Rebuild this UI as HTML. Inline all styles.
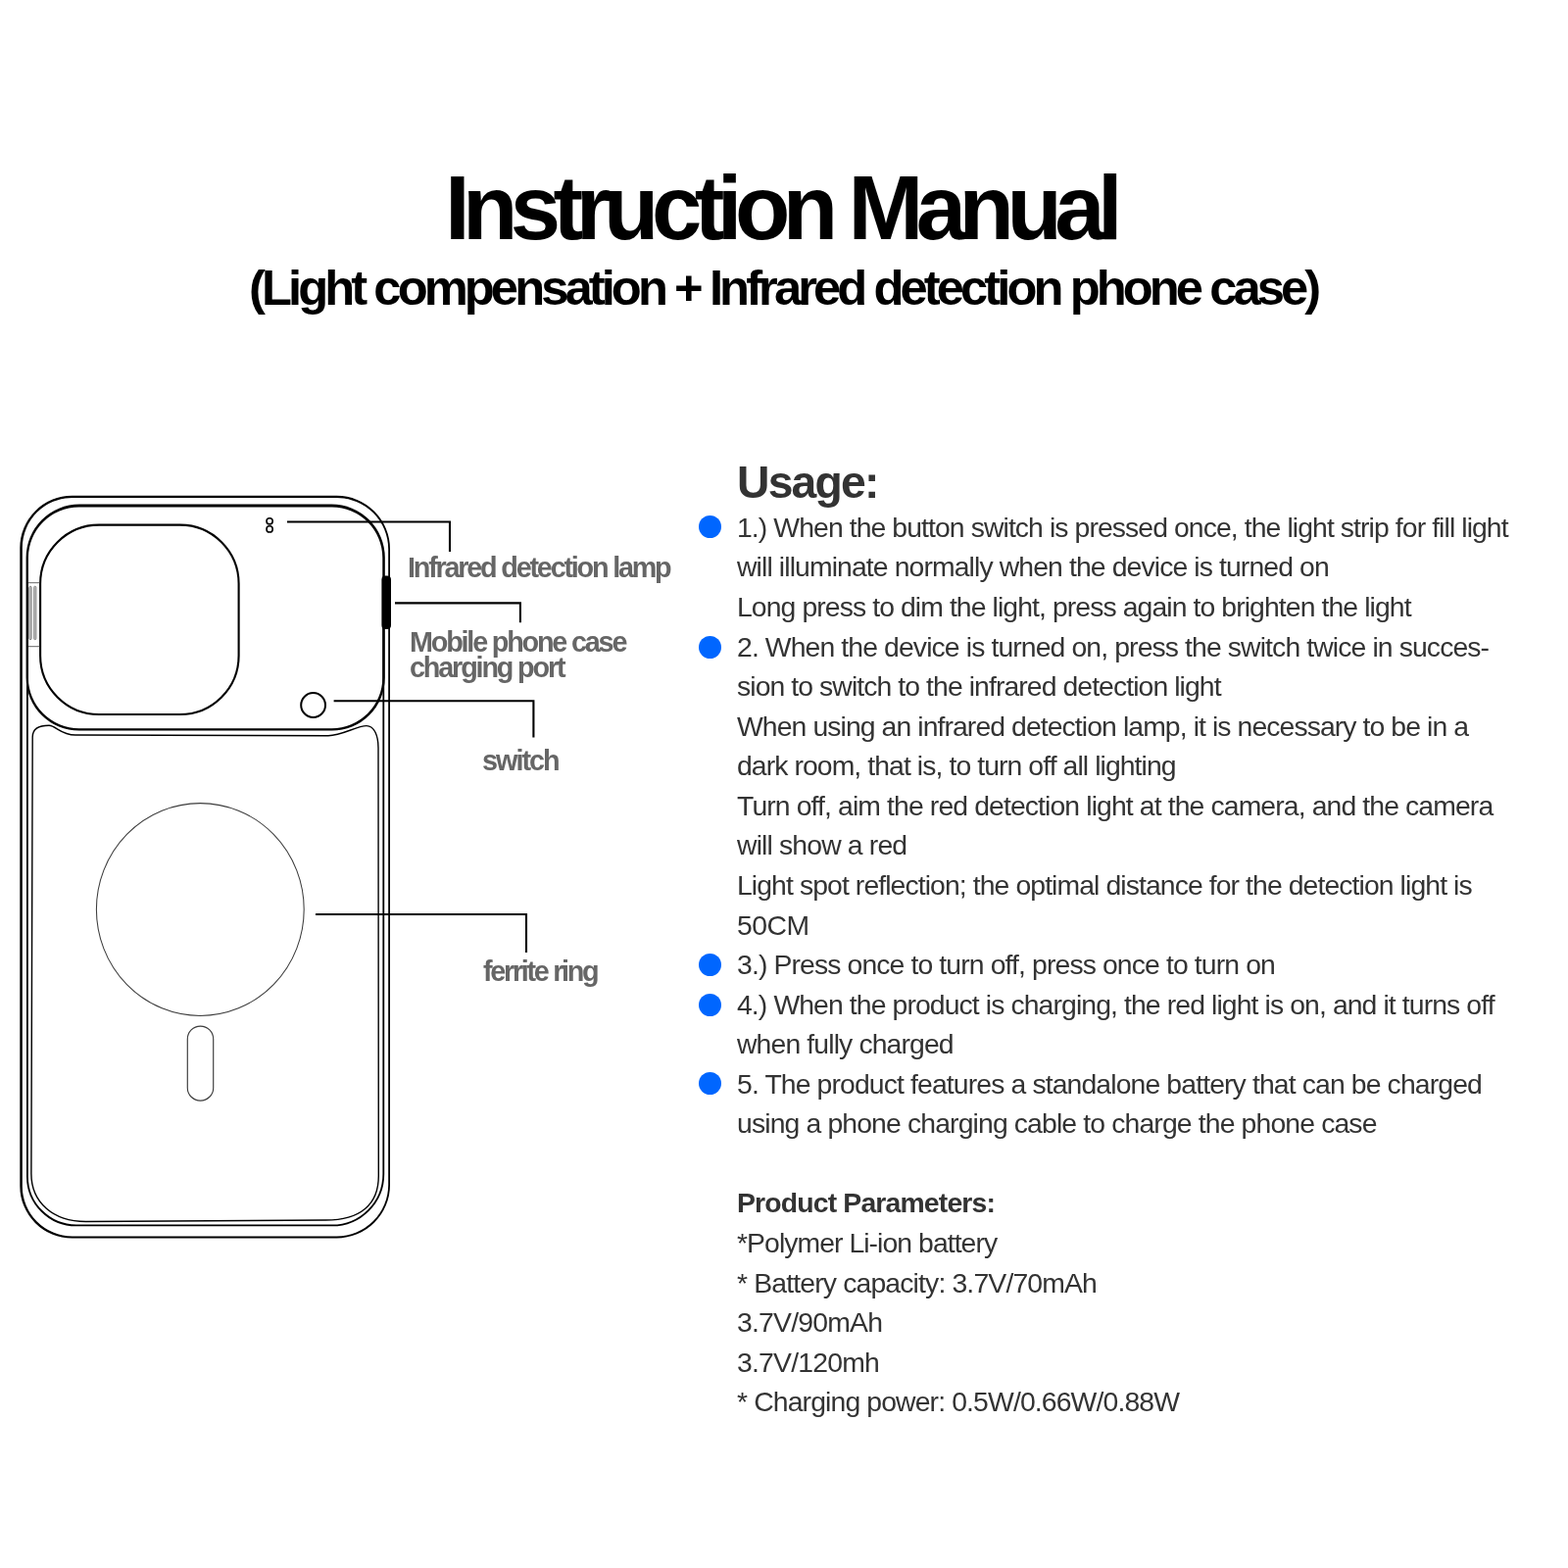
<!DOCTYPE html>
<html lang="en"><head><meta charset="utf-8"><title>Instruction Manual</title>
<style>
html,body{margin:0;padding:0;background:#fff}
body{width:1600px;height:1600px;position:relative;overflow:hidden;font-family:"Liberation Sans",Arial,Helvetica,sans-serif}
.t{position:absolute;white-space:nowrap;margin:0;padding:0;will-change:transform;-webkit-font-smoothing:antialiased}
.h{font-weight:700;color:#000}
.u{font-weight:700;color:#333}
.b{color:#333}
.bb{font-weight:700;color:#333}
.l{font-weight:700;color:#666}
.dot{position:absolute;width:23px;height:23px;border-radius:50%;background:#0066ff}
svg{position:absolute;left:0;top:0}
</style></head><body>

<svg width="1600" height="1600" viewBox="0 0 1600 1600" fill="none" stroke="#000" stroke-linecap="butt">
<path fill="#000" stroke="none" fill-rule="evenodd" d="M73.60 505.80 H343.50 A54.5 54.5 0 0 1 398.00 560.30 V1209.00 A54.5 54.5 0 0 1 343.50 1263.50 H73.60 A53.3 53.3 0 0 1 20.30 1210.20 V559.10 A53.3 53.3 0 0 1 73.60 505.80 Z M73.80 507.90 A51 51 0 0 0 22.80 558.90 V1210.50 A51 51 0 0 0 73.80 1261.50 H343.60 A52.6 52.6 0 0 0 396.20 1208.90 V560.50 A52.6 52.6 0 0 0 343.60 507.90 Z"/>
<path d="M27.9 600 V1200.4 A50 50 0 0 0 77.9 1250.4 H338.8 A52.5 52.5 0 0 0 391.3 1197.9 V600" stroke-width="1.8"/>
<path fill="#000" stroke="none" fill-rule="evenodd" d="M81.10 514.50 H338.30 A54.5 54.5 0 0 1 392.80 569.00 V691.40 A54.2 54.2 0 0 1 338.60 745.60 H80.80 A54.2 54.2 0 0 1 26.60 691.40 V569.00 A54.5 54.5 0 0 1 81.10 514.50 Z M80.40 517.60 A51.5 51.5 0 0 0 28.90 569.10 V691.40 A51.8 51.8 0 0 0 80.70 743.20 H338.50 A51.8 51.8 0 0 0 390.30 691.40 V569.10 A51.5 51.5 0 0 0 338.80 517.60 Z"/>
<rect x="41.1" y="535.6" width="202.5" height="193.4" rx="60" ry="60" stroke-width="2.1"/>
<path d="M31.9 1197.5 L33.2 752 C33.2 746 37 740.3 50 740.3 C57 740.3 62 750 77 750 L335 750.7 C349 750.7 364 740.6 374 740.6 C382 740.6 386 751 386 763 L386.3 1200 C386.3 1229.3 367.4 1245 332.5 1245 L87.5 1246.5 C54.1 1246.5 31.9 1226.9 31.9 1197.5 Z" stroke-width="1.4"/>
<path d="M28.8 594.7 H40.4 M28.8 659.7 H40.4" stroke="#555" stroke-width="0.9"/>
<g fill="#b4b4b4" stroke="#6a6a6a" stroke-width="0.6"><rect x="29.7" y="598.2" width="2.6" height="54.5" rx="1.3"/><rect x="34.5" y="598.2" width="2.5" height="54.5" rx="1.25"/></g>
<rect x="389.4" y="587.5" width="9.6" height="54.5" rx="4" ry="4" fill="#000" stroke="none"/>
<circle cx="275.1" cy="531.8" r="3.1" stroke-width="1.6"/>
<circle cx="275.1" cy="539.9" r="3.1" stroke-width="1.6"/>
<circle cx="319.6" cy="719.5" r="12.4" stroke-width="2"/>
<ellipse cx="204.3" cy="928" rx="105.9" ry="108.4" stroke="#3c3c3c" stroke-width="1.05"/>
<rect x="191.3" y="1047.1" width="26.4" height="76" rx="13.2" ry="13.2" stroke="#3c3c3c" stroke-width="1.15"/>
<g stroke-width="2.1">
<path d="M293 532.5 H459 V563"/>
<path d="M403 615.4 H530.9 V635.3"/>
<path d="M340.6 715.2 H544.4 V752.4"/>
<path d="M322 933 H537 V972"/>
</g>
</svg>

<div id="title" class="t h" style="left:454.20px;top:166px;font-size:92.3px;line-height:93px;letter-spacing:-7.58px">Instruction Manual</div>
<div id="sub" class="t h" style="left:254.40px;top:268px;font-size:50.7px;line-height:51px;letter-spacing:-3.92px">(Light compensation + Infrared detection phone case)</div>
<div id="usage" class="t u" style="left:751.70px;top:469px;font-size:46.3px;line-height:47px;letter-spacing:-1.8px">Usage:</div>
<div id="b0" class="t b" style="left:752.00px;top:524px;font-size:28.35px;line-height:29px;letter-spacing:-0.9078px">1.) When the button switch is pressed once, the light strip for fill light</div>
<div class="dot" style="left:712.85px;top:525.85px"></div>
<div id="b1" class="t b" style="left:752.00px;top:564px;font-size:28.35px;line-height:29px;letter-spacing:-0.8838px">will illuminate normally when the device is turned on</div>
<div id="b2" class="t b" style="left:752.00px;top:605px;font-size:28.35px;line-height:29px;letter-spacing:-0.9041px">Long press to dim the light, press again to brighten the light</div>
<div id="b3" class="t b" style="left:752.00px;top:646px;font-size:28.35px;line-height:29px;letter-spacing:-0.8842px">2. When the device is turned on, press the switch twice in succes-</div>
<div class="dot" style="left:712.85px;top:649.40px"></div>
<div id="b4" class="t b" style="left:752.00px;top:686px;font-size:28.35px;line-height:29px;letter-spacing:-0.9139px">sion to switch to the infrared detection light</div>
<div id="b5" class="t b" style="left:752.00px;top:727px;font-size:28.35px;line-height:29px;letter-spacing:-0.9073px">When using an infrared detection lamp, it is necessary to be in a</div>
<div id="b6" class="t b" style="left:752.00px;top:767px;font-size:28.35px;line-height:29px;letter-spacing:-0.9144px">dark room, that is, to turn off all lighting</div>
<div id="b7" class="t b" style="left:752.00px;top:808px;font-size:28.35px;line-height:29px;letter-spacing:-0.8807px">Turn off, aim the red detection light at the camera, and the camera</div>
<div id="b8" class="t b" style="left:752.00px;top:848px;font-size:28.35px;line-height:29px;letter-spacing:-0.8407px">will show a red</div>
<div id="b9" class="t b" style="left:752.00px;top:889px;font-size:28.35px;line-height:29px;letter-spacing:-0.9036px">Light spot reflection; the optimal distance for the detection light is</div>
<div id="b10" class="t b" style="left:752.00px;top:930px;font-size:28.35px;line-height:29px;letter-spacing:-0.5383px">50CM</div>
<div id="b11" class="t b" style="left:752.00px;top:970px;font-size:28.35px;line-height:29px;letter-spacing:-0.8769px">3.) Press once to turn off, press once to turn on</div>
<div class="dot" style="left:712.85px;top:972.90px"></div>
<div id="b12" class="t b" style="left:752.00px;top:1011px;font-size:28.35px;line-height:29px;letter-spacing:-0.8929px">4.) When the product is charging, the red light is on, and it turns off</div>
<div class="dot" style="left:712.85px;top:1013.50px"></div>
<div id="b13" class="t b" style="left:752.00px;top:1051px;font-size:28.35px;line-height:29px;letter-spacing:-0.8667px">when fully charged</div>
<div id="b14" class="t b" style="left:752.00px;top:1092px;font-size:28.35px;line-height:29px;letter-spacing:-0.8717px">5. The product features a standalone battery that can be charged</div>
<div class="dot" style="left:712.85px;top:1093.90px"></div>
<div id="b15" class="t b" style="left:752.00px;top:1132px;font-size:28.35px;line-height:29px;letter-spacing:-0.8589px">using a phone charging cable to charge the phone case</div>
<div id="b17" class="t bb" style="left:752.00px;top:1213px;font-size:28.35px;line-height:29px;letter-spacing:-0.8272px">Product Parameters:</div>
<div id="b18" class="t b" style="left:752.00px;top:1254px;font-size:28.35px;line-height:29px;letter-spacing:-0.9368px">*Polymer Li-ion battery</div>
<div id="b19" class="t b" style="left:752.00px;top:1295px;font-size:28.35px;line-height:29px;letter-spacing:-0.8429px">* Battery capacity: 3.7V/70mAh</div>
<div id="b20" class="t b" style="left:752.00px;top:1335px;font-size:28.35px;line-height:29px;letter-spacing:-0.7773px">3.7V/90mAh</div>
<div id="b21" class="t b" style="left:752.00px;top:1376px;font-size:28.35px;line-height:29px;letter-spacing:-0.7828px">3.7V/120mh</div>
<div id="b22" class="t b" style="left:752.00px;top:1416px;font-size:28.35px;line-height:29px;letter-spacing:-0.8641px">* Charging power: 0.5W/0.66W/0.88W</div>
<div id="lab1" class="t l" style="left:416.40px;top:565px;font-size:28.8px;line-height:29px;letter-spacing:-2.215px">Infrared detection lamp</div>
<div id="lab2" class="t l" style="left:418.00px;top:641px;font-size:28.8px;line-height:29px;letter-spacing:-2.2px">Mobile phone case</div>
<div id="lab3" class="t l" style="left:418.00px;top:667px;font-size:28.8px;line-height:29px;letter-spacing:-2.17px">charging port</div>
<div id="lab4" class="t l" style="left:491.90px;top:762px;font-size:28.8px;line-height:29px;letter-spacing:-2.0px">switch</div>
<div id="lab5" class="t l" style="left:492.50px;top:977px;font-size:28.8px;line-height:29px;letter-spacing:-2.31px">ferrite ring</div>
</body></html>
